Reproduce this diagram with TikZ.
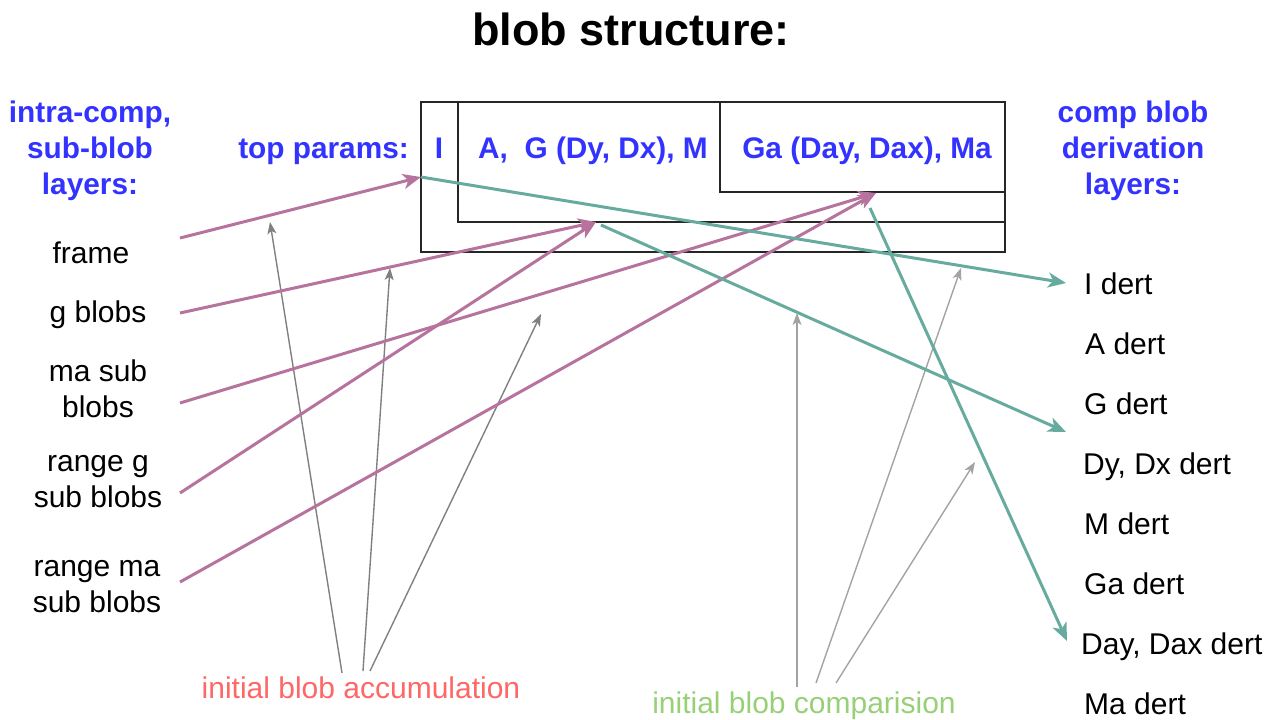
\documentclass[tikz,border=0pt]{standalone}
\usepackage{fontspec}
\setmainfont{Liberation Sans}
\usetikzlibrary{arrows.meta}
\definecolor{hblue}{HTML}{3333FF}
\definecolor{pinkc}{HTML}{B5739D}
\definecolor{tealc}{HTML}{67AB9F}
\definecolor{grayl}{HTML}{808080}
\definecolor{grayr}{HTML}{A3A3A3}
\definecolor{accred}{HTML}{FF6666}
\definecolor{cmpgreen}{HTML}{97D077}
\tikzset{
  lbl/.style={font=\fontsize{30}{36}\selectfont, inner sep=0pt, align=center, text=black},
  hd/.style={font=\fontsize{29.8}{36}\selectfont\bfseries, inner sep=0pt, align=center, text=hblue},
  ttl/.style={font=\fontsize{45}{50}\selectfont\bfseries, inner sep=0pt},
  boxs/.style={draw=black!85, line width=1.2pt, inner sep=0pt},
  pinkarr/.style={draw=pinkc, line width=3pt, -{Stealth[length=18pt,width=15pt,inset=5pt]}},
  tealarr/.style={draw=tealc, line width=3pt, -{Stealth[length=18pt,width=15pt,inset=5pt]}},
  grayarrl/.style={draw=grayl, line width=1.4pt, -{Stealth[length=12pt,width=9pt,inset=3pt]}},
  grayarrr/.style={draw=grayr, line width=1.4pt, -{Stealth[length=12pt,width=9pt,inset=3pt]}}
}
\begin{document}
\begin{tikzpicture}[x=1pt,y=-1pt]
\useasboundingbox (0,0) rectangle (1277,720);
% title
\node[ttl, anchor=base] (title) at (631,45) {blob structure:};
% headings (base = last line)
\node[hd, anchor=base] (hl) at (90,194) {intra-comp,\\sub-blob\\layers:};
\node[hd, anchor=base east] (tp) at (409,158) {top params:};
\node[hd, anchor=base] (hr) at (1133,194) {comp blob\\derivation\\layers:};
% boxes
\node[boxs, minimum width=584pt, minimum height=150pt] (outer) at (713,177) {};
\node[boxs, minimum width=547pt, minimum height=120pt] (mid) at (731.5,162) {};
\node[boxs, minimum width=285pt, minimum height=90pt] (inn) at (862.5,147) {};
\node[hd, anchor=base] (tI) at (439,158) {I};
\node[hd, anchor=base] (tA) at (593,158) {A,\ \ G (Dy, Dx), M};
\node[hd, anchor=base] (tG) at (867,158) {Ga (Day, Dax), Ma};
% left labels
\node[lbl, anchor=base] (frame) at (91,263) {frame};
\node[lbl, anchor=base] (gb) at (98,322) {g blobs};
\node[lbl, anchor=base] (ma) at (98,417) {ma sub\\blobs};
\node[lbl, anchor=base] (rg) at (98,507) {range g\\sub blobs};
\node[lbl, anchor=base] (rm) at (97,612) {range ma\\sub blobs};
% right labels
\node[lbl, anchor=base west] (dI) at (1084,294) {I dert};
\node[lbl, anchor=base west] (dA) at (1085,354) {A dert};
\node[lbl, anchor=base west] (dG) at (1084,414) {G dert};
\node[lbl, anchor=base west] (dDy) at (1083,474) {Dy, Dx dert};
\node[lbl, anchor=base west] (dM) at (1084,534) {M dert};
\node[lbl, anchor=base west] (dGa) at (1084,594) {Ga dert};
\node[lbl, anchor=base west] (dDay) at (1081,654) {Day, Dax dert};
\node[lbl, anchor=base west] (dMa) at (1084,714) {Ma dert};
% bottom labels
\node[lbl, anchor=base, text=accred] (acc) at (361,698) {initial blob accumulation};
\node[lbl, anchor=base, text=cmpgreen] (cmp) at (804,713) {initial blob comparision};
% connector end points
\coordinate (sF) at (180,238);
\coordinate (sG) at (180,313);
\coordinate (sM) at (180,403);
\coordinate (sRG) at (180,493);
\coordinate (sRM) at (180,582);
\coordinate (pI) at (421,177);
\coordinate (pA) at (596,222);
\coordinate (pGa) at (876,193);
\coordinate (qA) at (601,225);
\coordinate (qGa) at (870,208);
\coordinate (eI) at (1066,283);
\coordinate (eG) at (1066,432);
\coordinate (eD) at (1067,641);
\coordinate (a1) at (342,673);
\coordinate (a2) at (363,671);
\coordinate (a3) at (370,671);
\coordinate (ta1) at (270,222);
\coordinate (ta2) at (390,268);
\coordinate (ta3) at (541,314);
\coordinate (c1) at (797,687);
\coordinate (c2) at (816,683);
\coordinate (c3) at (836,683);
\coordinate (tc1) at (797,313);
\coordinate (tc2) at (961,268);
\coordinate (tc3) at (975,462);
% gray arrows
\draw[grayarrl] (a1) -- (ta1);
\draw[grayarrl] (a2) -- (ta2);
\draw[grayarrl] (a3) -- (ta3);
\draw[grayarrr] (c1) -- (tc1);
\draw[grayarrr] (c2) -- (tc2);
\draw[grayarrr] (c3) -- (tc3);
% pink arrows
\draw[pinkarr] (sF) -- (pI);
\draw[pinkarr] (sG) -- (pA);
\draw[pinkarr] (sM) -- (pGa);
\draw[pinkarr] (sRG) -- (pA);
\draw[pinkarr] (sRM) -- (pGa);
% teal arrows
\draw[tealarr] (pI) -- (eI);
\draw[tealarr] (qA) -- (eG);
\draw[tealarr] (qGa) -- (eD);
\end{tikzpicture}
\end{document}
